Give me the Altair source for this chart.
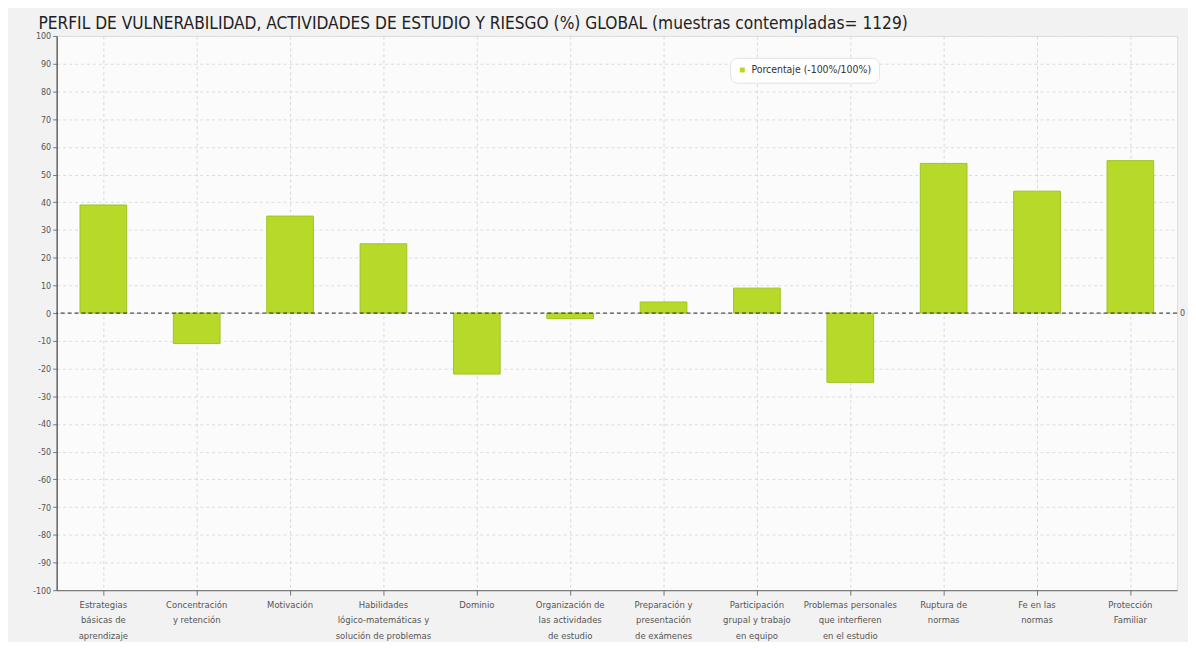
import altair as alt
import pandas as pd

categories = [
    "Estrategias|básicas de|aprendizaje",
    "Concentración|y retención",
    "Motivación",
    "Habilidades|lógico-matemáticas y|solución de problemas",
    "Dominio",
    "Organización de|las actividades|de estudio",
    "Preparación y|presentación|de exámenes",
    "Participación|grupal y trabajo|en equipo",
    "Problemas personales|que interfieren|en el estudio",
    "Ruptura de|normas",
    "Fe en las|normas",
    "Protección|Familiar",
]
values = [39, -11, 35, 25, -22, -2, 4, 9, -25, 54, 44, 55]
series_name = "Porcentaje (-100%/100%)"
y_ticks = list(range(-100, 101, 10))
title_text = "PERFIL DE VULNERABILIDAD, ACTIVIDADES DE ESTUDIO Y RIESGO (%) GLOBAL (muestras contempladas= 1129)"

W, H = 1128, 558
FONT = "DejaVu Sans Condensed, Liberation Sans Narrow, DejaVu Sans, sans-serif"
GREEN = "#b6d92a"

df = pd.DataFrame({"cat": categories, "value": values, "serie": [series_name] * len(values)})
zero = pd.DataFrame({"z": [0], "t": ["0"]})

y_scale = alt.Scale(domain=[-100, 100], nice=False)
y_axis = alt.Axis(
    title=None,
    values=y_ticks,
    tickCount=21,
    labelExpr="'' + datum.value",
    labelOverlap=False,
    labelFont=FONT,
    labelFontSize=9,
    labelColor="#555555",
    tickSize=4,
    tickColor="#777777",
    domainColor="#666666",
    domainWidth=1.5,
    grid=True,
    gridColor="#dcdcdc",
    gridDash=[3, 3],
)

x_enc = alt.X(
    "cat:N",
    sort=None,
    scale=alt.Scale(paddingInner=0.5, paddingOuter=0.25),
    axis=alt.Axis(
        title=None,
        labelAngle=0,
        labelExpr="split(datum.label, '|')",
        labelFont=FONT,
        labelFontSize=9.5,
        labelLineHeight=16,
        labelColor="#555555",
        labelPadding=4,
        tickSize=5,
        tickColor="#777777",
        domainColor="#666666",
        grid=True,
        gridColor="#d8d8d8",
        gridDash=[3, 3],
        labelBaseline="top",
    ),
)

bars = alt.Chart(df).mark_bar(stroke="#9fc41f", strokeWidth=1).encode(
    x=x_enc,
    y=alt.Y("value:Q", scale=y_scale, axis=y_axis),
    color=alt.Color(
        "serie:N",
        scale=alt.Scale(range=[GREEN]),
        legend=alt.Legend(
            title=None,
            orient="none",
            legendX=678,
            legendY=22,
            fillColor="white",
            strokeColor="#e2e2e2",
            cornerRadius=7,
            padding=7,
            symbolType="square",
            symbolSize=25,
            symbolStrokeWidth=0,
            labelFont=FONT,
            labelFontSize=10.5,
            labelColor="#333333",
        ),
    ),
)

rule = alt.Chart(zero).mark_rule(color="#222222", strokeDash=[4, 3], strokeWidth=1).encode(
    y=alt.Y("z:Q", scale=y_scale, axis=y_axis)
)

zero_label = alt.Chart(zero).mark_text(
    align="left", baseline="middle", font=FONT, fontSize=9, color="#555555"
).encode(x=alt.value(W + 3), y=alt.Y("z:Q", scale=y_scale, axis=y_axis), text="t:N")

chart = (
    alt.layer(bars, rule, zero_label)
    .properties(
        width=W,
        height=H,
        autosize=alt.AutoSizeParams(type="none"),
        padding={"left": 49, "top": 26, "right": 11, "bottom": 50},
        background="#f2f2f2",
        title=alt.TitleParams(
            text=title_text,
            anchor="start",
            font=FONT,
            fontSize=17.3,
            fontWeight="normal",
            color="#222222",
            dx=6,
            dy=2,
            offset=2,
        ),
    )
    .configure_view(fill="#fbfbfb", stroke="#dddddd")
)

chart.save("out.html", embed_options={"renderer": "svg", "actions": False})
